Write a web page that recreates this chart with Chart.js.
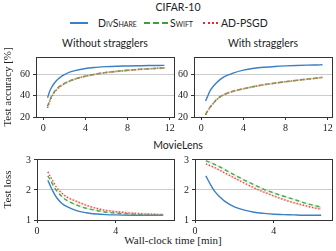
<!DOCTYPE html>
<html>
<head>
<meta charset="utf-8">
<script src="https://cdn.jsdelivr.net/npm/chart.js"></script>
<style>
  body { margin: 0; background: #fff; }
  #fig { position: relative; width: 336px; height: 251px; overflow: hidden; font-family: Lato, sans-serif; color: #222; }
  .box { position: absolute; }
  .lbl { position: absolute; transform: translate(-50%, -50%); white-space: nowrap; font-size: 10.5px; }
  .serif { font-family: "Liberation Serif", serif; font-size: 11px; }
  .sc { font-variant: small-caps; }
  .key { position: absolute; height: 0; }
  .txt { position: absolute; transform: translateY(-50%); white-space: nowrap; font-size: 10.5px; }
</style>
</head>
<body>
<div id="fig">
  <div class="lbl" style="left:178px;top:7px">CIFAR-10</div>

  <div class="key" style="left:70px;top:22px;width:18px;border-top:2px solid #3b7fc4"></div>
  <div class="txt sc" style="left:98px;top:23px">DivShare</div>
  <div class="key" style="left:144px;top:22px;width:24px;border-top:2px dashed #3ca03c"></div>
  <div class="txt sc" style="left:170px;top:23px">Swift</div>
  <div class="key" style="left:203px;top:22px;width:15px;border-top:2px dotted #e8282a"></div>
  <div class="txt" style="left:221px;top:23px">AD-PSGD</div>

  <div class="lbl" style="left:105px;top:43px">Without stragglers</div>
  <div class="lbl" style="left:263px;top:43px">With stragglers</div>
  <div class="lbl" style="left:178px;top:145px">MovieLens</div>
  <div class="lbl serif" style="left:173px;top:240px">Wall-clock time [min]</div>

  <div class="box" style="left:0;top:48px;width:180px;height:86px"><canvas id="c1"></canvas></div>
  <div class="box" style="left:170px;top:48px;width:166px;height:86px"><canvas id="c2"></canvas></div>
  <div class="box" style="left:0;top:150px;width:180px;height:101px"><canvas id="c3"></canvas></div>
  <div class="box" style="left:170px;top:150px;width:166px;height:101px"><canvas id="c4"></canvas></div>
</div>
<script>
// tick labels
const accTicks = [20, 40, 60];
const lossTicks = [1, 2, 3];
const timeTicksTop = [0, 4, 8, 12];
const timeTicksBottom = [0, 4];

// CIFAR-10, time in minutes
const cifarTime = [0.4, 0.6, 0.8, 1, 1.3, 1.6, 2, 2.5, 3, 4, 5, 6, 7, 8, 9, 10, 11, 11.5];
// without stragglers
const noStragDivShare = [38, 44, 48, 51, 54.5, 57, 59.5, 61.8, 63.3, 65.3, 66.3, 67, 67.4, 67.6, 67.8, 68, 68.1, 68.2];
const noStragSwift = [30, 35.5, 40, 43, 46.5, 49, 51.3, 53.7, 55.5, 58.2, 60.1, 61.6, 62.7, 63.6, 64.4, 65, 65.5, 65.8];
const noStragAdpsgd = [28.5, 34.5, 39, 42.3, 46, 48.5, 51, 53.4, 55.3, 58, 60, 61.5, 62.6, 63.5, 64.3, 65, 65.5, 65.8];
// with stragglers
const stragDivShare = [35, 39.5, 44, 47, 50.5, 53.5, 56.5, 59, 61, 63.8, 65.5, 66.5, 67.2, 67.7, 68.1, 68.4, 68.6, 68.7];
const stragSwift = [22.5, 26, 29, 31.3, 34.8, 37.6, 40.2, 42.4, 44, 46.4, 48.5, 50.3, 51.7, 53, 54.2, 55.3, 56.4, 57];
const stragAdpsgd = [22, 25.5, 28.5, 31, 34.5, 37.4, 40, 42.3, 44, 46.3, 48.4, 50.2, 51.6, 52.9, 54.1, 55.2, 56.3, 56.8];

// MovieLens, without stragglers
const mlTimeA = [0.55, 0.7, 0.85, 1, 1.25, 1.5, 2, 2.5, 3, 3.5, 4, 5, 6, 6.4];
const mlDivShareA = [2.32, 2.1, 1.9, 1.74, 1.56, 1.45, 1.31, 1.24, 1.2, 1.18, 1.17, 1.16, 1.16, 1.16];
const mlSwiftA = [2.47, 2.3, 2.12, 1.97, 1.79, 1.66, 1.5, 1.39, 1.32, 1.26, 1.23, 1.19, 1.17, 1.17];
const mlAdpsgdA = [2.6, 2.42, 2.24, 2.08, 1.9, 1.77, 1.62, 1.49, 1.39, 1.32, 1.28, 1.22, 1.19, 1.18];
// MovieLens, with stragglers
const mlTimeB = [0.55, 0.8, 1, 1.25, 1.5, 2, 2.5, 3, 3.5, 4, 4.5, 5, 5.5, 6, 6.4];
const mlDivShareB = [2.47, 2.16, 1.95, 1.77, 1.63, 1.44, 1.33, 1.26, 1.22, 1.19, 1.18, 1.17, 1.16, 1.16, 1.16];
const mlSwiftB = [2.97, 2.91, 2.85, 2.77, 2.68, 2.5, 2.33, 2.17, 2.02, 1.9, 1.79, 1.69, 1.58, 1.49, 1.43];
const mlAdpsgdB = [2.87, 2.8, 2.74, 2.66, 2.57, 2.4, 2.23, 2.07, 1.93, 1.8, 1.68, 1.58, 1.49, 1.41, 1.36];

const blue = "#3b7fc4", green = "#3ca03c", red = "#e8282a";

function pts(xs, ys) { return xs.map((x, i) => ({ x: x, y: ys[i] })); }

function line(xs, ys, color, dash) {
  return { data: pts(xs, ys), borderColor: color, borderWidth: 1.4, borderDash: dash,
           pointRadius: 0, cubicInterpolationMode: "monotone", fill: false };
}

// shaded spread around a series (spread)
function band(xs, ys, s, color) {
  return [
    { data: pts(xs, ys.map(v => v - s)), borderWidth: 0, pointRadius: 0, cubicInterpolationMode: "monotone", fill: false },
    { data: pts(xs, ys.map(v => v + s)), borderWidth: 0, pointRadius: 0, cubicInterpolationMode: "monotone", fill: "-1", backgroundColor: color }
  ];
}

const frame = {
  id: "frame",
  afterDraw(chart) {
    const a = chart.chartArea, ctx = chart.ctx;
    ctx.save();
    ctx.strokeStyle = "#333";
    ctx.lineWidth = 1;
    ctx.strokeRect(a.left + 0.5, a.top + 0.5, a.right - a.left - 1, a.bottom - a.top);
    ctx.restore();
  }
};

function makeChart(id, datasets, o) {
  new Chart(id, {
    type: "line",
    data: { datasets: datasets },
    options: {
      responsive: true, maintainAspectRatio: false, animation: false, devicePixelRatio: 1,
      layout: { padding: { top: o.padTop, right: o.padRight, left: 0, bottom: 0 } },
      plugins: { legend: { display: false }, tooltip: { enabled: false } },
      scales: {
        x: {
          type: "linear", min: o.xmin, max: o.xmax,
          afterBuildTicks: s => { s.ticks = o.xticks.map(v => ({ value: v })); },
          afterFit: s => { s.height = o.xh; },
          border: { display: false },
          grid: { drawOnChartArea: false, tickLength: 3, tickColor: "#333" },
          ticks: { padding: 2, maxRotation: 0, color: "#222", font: { family: "Liberation Serif", size: 10 } }
        },
        y: {
          min: o.ymin, max: o.ymax,
          afterBuildTicks: s => { s.ticks = o.yticks.map(v => ({ value: v })); },
          afterFit: s => { s.width = o.yw; },
          border: { display: false },
          grid: { color: "#cccccc", lineWidth: 1, tickLength: 3, tickColor: "#333" },
          ticks: { padding: 3, color: "#222", font: { family: "Liberation Serif", size: 10 } },
          title: { display: !!o.ytitle, text: o.ytitle || "", color: "#222", padding: { top: 2, bottom: 0 },
                   font: { family: "Liberation Serif", size: 11 } }
        }
      }
    },
    plugins: [frame]
  });
}

function sets(xs, d, s, w, a) {
  return [].concat(
    band(xs, a, s * 1.2, "rgba(255,120,120,0.25)"),
    band(xs, w, s, "rgba(120,200,120,0.25)"),
    [line(xs, d, blue, []), line(xs, w, green, [4, 3]), line(xs, a, red, [1.2, 2])]
  );
}

const topOpts = { padTop: 5, xh: 17, xmin: -0.7, xmax: 12.5, xticks: timeTicksTop, ymin: 20, ymax: 76, yticks: accTicks };
const botOpts = { padTop: 6, xh: 31, xmin: 0, xmax: 7, xticks: timeTicksBottom, ymin: 1, ymax: 3.03, yticks: lossTicks };

makeChart("c1", sets(cifarTime, noStragDivShare, 0.8, noStragSwift, noStragAdpsgd),
  Object.assign({}, topOpts, { padRight: 5, yw: 36, ytitle: "Test accuracy [%]" }));
makeChart("c2", sets(cifarTime, stragDivShare, 0.8, stragSwift, stragAdpsgd),
  Object.assign({}, topOpts, { padRight: 3, yw: 24 }));
makeChart("c3", sets(mlTimeA, mlDivShareA, 0.03, mlSwiftA, mlAdpsgdA),
  Object.assign({}, botOpts, { padRight: 5, yw: 37, ytitle: "Test loss" }));
makeChart("c4", sets(mlTimeB, mlDivShareB, 0.03, mlSwiftB, mlAdpsgdB),
  Object.assign({}, botOpts, { padRight: 3, yw: 25 }));
</script>
</body>
</html>
